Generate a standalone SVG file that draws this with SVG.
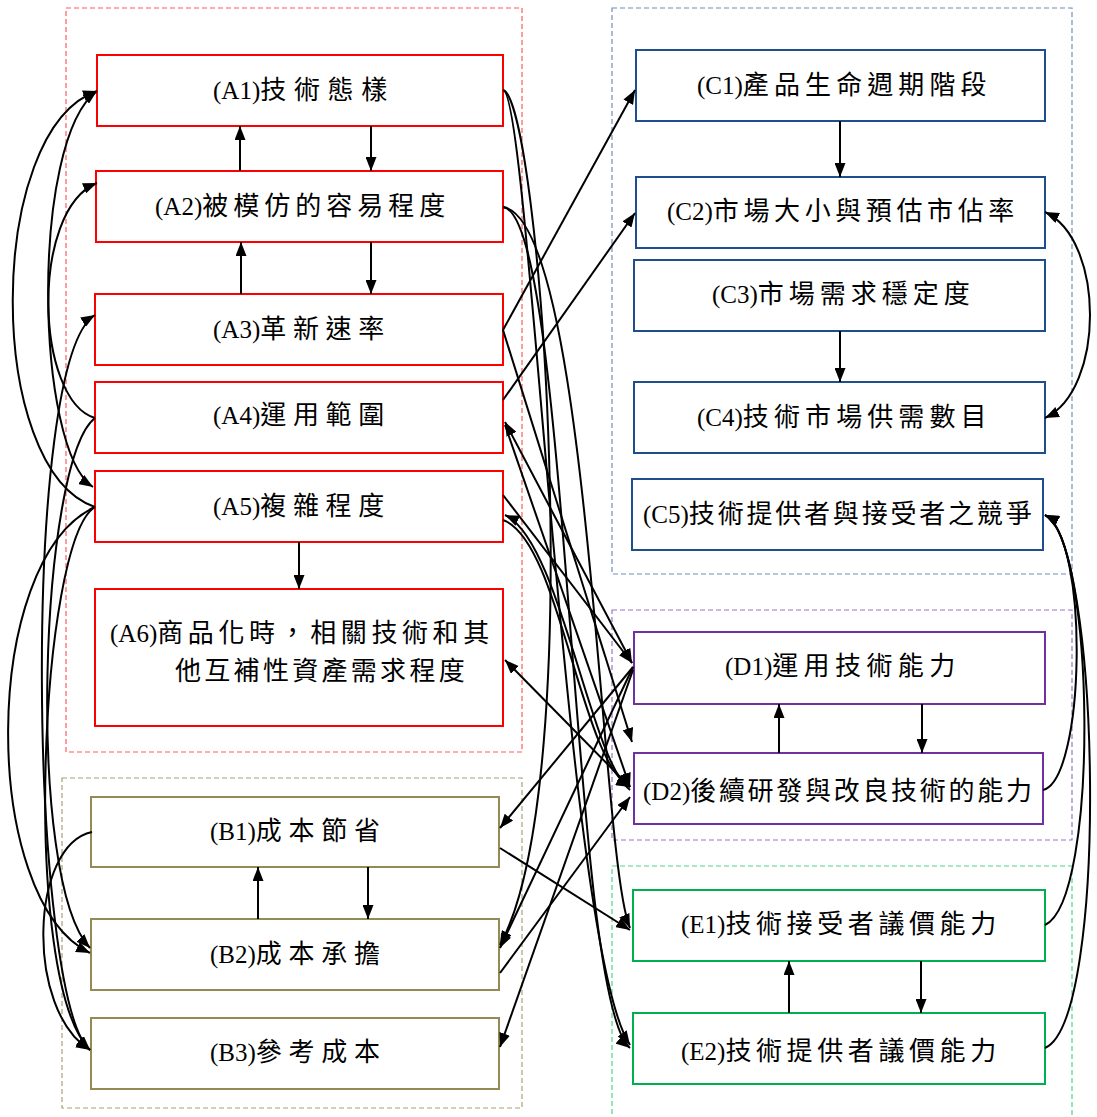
<svg xmlns="http://www.w3.org/2000/svg" width="1097" height="1117" viewBox="0 0 1097 1117">
<style>
.grp{fill:none;stroke-width:1.2;stroke-dasharray:5 3}
.box{fill:#fff;stroke-width:2}
.a{stroke:#ff0000}.b{stroke:#948a54}.c{stroke:#1f4e8c}.d{stroke:#7030a0}.e{stroke:#00b050}
.t{font-family:"Liberation Serif","Noto Sans CJK TC",serif;font-size:25px;fill:#000}
.t tspan,.z{font-size:26px}
.cn path,.cn line{fill:none;stroke:#000;stroke-width:2;marker-end:url(#ah)}
.cn .dbl{marker-start:url(#ah)}
</style>
<defs>
<marker id="ah" viewBox="0 0 14 11" refX="14" refY="5.5" markerWidth="14" markerHeight="11" markerUnits="userSpaceOnUse" orient="auto-start-reverse">
<path d="M0,0 L14,5.5 L0,11 z" fill="#000"/>
</marker>
</defs>
<rect width="1097" height="1117" fill="#fff"/>
<g id="groups">
<rect class="grp" x="66" y="8" width="456" height="744" stroke="#ff5a5a"/>
<rect class="grp" x="62" y="778" width="460" height="330" stroke="#a89f74"/>
<rect class="grp" x="612" y="8" width="460" height="566" stroke="#6d8fba"/>
<rect class="grp" x="612" y="610" width="460" height="230" stroke="#9a74c8"/>
<rect class="grp" x="612" y="866" width="460" height="260" stroke="#4fd48a"/>
</g>
<g id="A1"><rect class="box a" x="97" y="55" width="406" height="71"/><text class="t" x="213" y="99">(A1)<tspan style="letter-spacing:7.7px">技術態樣</tspan></text></g>
<g id="A2"><rect class="box a" x="96" y="171" width="407" height="71"/><text class="t" x="155" y="215">(A2)<tspan style="letter-spacing:5px">被模仿的容易程度</tspan></text></g>
<g id="A3"><rect class="box a" x="95" y="294" width="408" height="71"/><text class="t" x="213" y="338">(A3)<tspan style="letter-spacing:6.7px">革新速率</tspan></text></g>
<g id="A4"><rect class="box a" x="95" y="382" width="408" height="71"/><text class="t" x="213" y="424">(A4)<tspan style="letter-spacing:6.7px">運用範圍</tspan></text></g>
<g id="A5"><rect class="box a" x="95" y="471" width="408" height="71"/><text class="t" x="213" y="515">(A5)<tspan style="letter-spacing:6.7px">複雜程度</tspan></text></g>
<g id="A6"><rect class="box a" x="95" y="589" width="408" height="137"/><text class="t" x="110" y="642">(A6)<tspan style="letter-spacing:4.6px">商品化時，相關技術和其</tspan></text><text class="t z" x="175" y="680" style="letter-spacing:3.3px">他互補性資產需求程度</text></g>
<g id="B1"><rect class="box b" x="91" y="797" width="408" height="70"/><text class="t" x="210" y="840">(B1)<tspan style="letter-spacing:6.7px">成本節省</tspan></text></g>
<g id="B2"><rect class="box b" x="91" y="919" width="408" height="71"/><text class="t" x="210" y="963">(B2)<tspan style="letter-spacing:6.7px">成本承擔</tspan></text></g>
<g id="B3"><rect class="box b" x="91" y="1018" width="408" height="71"/><text class="t" x="210" y="1061">(B3)<tspan style="letter-spacing:6.7px">參考成本</tspan></text></g>
<g id="C1"><rect class="box c" x="636" y="50" width="409" height="71"/><text class="t" x="697" y="94">(C1)<tspan style="letter-spacing:5.1px">產品生命週期階段</tspan></text></g>
<g id="C2"><rect class="box c" x="636" y="177" width="409" height="71"/><text class="t" x="667" y="220">(C2)<tspan style="letter-spacing:4.6px">市場大小與預估市佔率</tspan></text></g>
<g id="C3"><rect class="box c" x="634" y="260" width="411" height="71"/><text class="t" x="712" y="303">(C3)<tspan style="letter-spacing:5px">市場需求穩定度</tspan></text></g>
<g id="C4"><rect class="box c" x="634" y="382" width="411" height="71"/><text class="t" x="697" y="426">(C4)<tspan style="letter-spacing:5.1px">技術市場供需數目</tspan></text></g>
<g id="C5"><rect class="box c" x="632" y="479" width="411" height="71"/><text class="t" x="643" y="523">(C5)<tspan style="letter-spacing:2.8px">技術提供者與接受者之競爭</tspan></text></g>
<g id="D1"><rect class="box d" x="634" y="632" width="411" height="72"/><text class="t" x="725" y="675">(D1)<tspan style="letter-spacing:5.4px">運用技術能力</tspan></text></g>
<g id="D2"><rect class="box d" x="634" y="753" width="409" height="71"/><text class="t" x="643" y="800">(D2)<tspan style="letter-spacing:2.7px">後續研發與改良技術的能力</tspan></text></g>
<g id="E1"><rect class="box e" x="633" y="890" width="412" height="71"/><text class="t" x="681" y="933">(E1)<tspan style="letter-spacing:4.6px">技術接受者議價能力</tspan></text></g>
<g id="E2"><rect class="box e" x="633" y="1013" width="412" height="71"/><text class="t" x="681" y="1060">(E2)<tspan style="letter-spacing:4.6px">技術提供者議價能力</tspan></text></g>
<g id="connectors" class="cn">
<line x1="371" y1="126" x2="371" y2="171"/>
<line x1="240" y1="171" x2="240" y2="126"/>
<line x1="371" y1="242" x2="371" y2="294"/>
<line x1="241" y1="294" x2="241" y2="242"/>
<line x1="299" y1="542" x2="299" y2="589"/>
<line x1="368" y1="867" x2="368" y2="919"/>
<line x1="258" y1="919" x2="258" y2="867"/>
<line x1="840" y1="121" x2="840" y2="177"/>
<line x1="840" y1="331" x2="840" y2="382"/>
<line x1="922" y1="704" x2="922" y2="753"/>
<line x1="779" y1="753" x2="779" y2="704"/>
<line x1="921" y1="961" x2="921" y2="1013"/>
<line x1="789" y1="1013" x2="789" y2="961"/>
<path d="M95,507 C -15,470 -15,130 97,91"/>
<path class="dbl" d="M93,487 C 35,450 30,140 97,91"/>
<path d="M95,418 C 35,400 30,210 97,183"/>
<path class="dbl" d="M90,1050 C 30,1000 20,360 95,315"/>
<path d="M95,507 C -20,560 -20,900 90,953"/>
<path d="M95,418 C 40,460 25,880 90,948"/>
<path d="M95,507 C 40,540 20,980 90,1050"/>
<path d="M92,832 C 30,845 25,1010 90,1050"/>
<path d="M503,90 C 540,100 590,780 500,945"/>
<path d="M503,90 C 530,92 565,950 630,1045"/>
<path d="M503,207 C 570,215 570,1000 630,1048"/>
<path d="M503,207 C 590,220 600,860 630,928"/>
<line x1="503" y1="330" x2="635" y2="90"/>
<line x1="503" y1="330" x2="632" y2="742"/>
<line x1="503" y1="400" x2="635" y2="213"/>
<line class="dbl" x1="505" y1="422" x2="632" y2="663"/>
<line x1="505" y1="425" x2="630" y2="787"/>
<path d="M630,790 C 590,760 560,540 505,515"/>
<path d="M503,520 C 560,540 580,760 630,787"/>
<line x1="503" y1="495" x2="632" y2="663"/>
<line x1="633" y1="667" x2="500" y2="828"/>
<line x1="633" y1="667" x2="500" y2="948"/>
<line x1="633" y1="670" x2="500" y2="1047"/>
<line x1="500" y1="848" x2="630" y2="930"/>
<line x1="500" y1="973" x2="630" y2="797"/>
<line class="dbl" x1="505" y1="660" x2="630" y2="787"/>
<path class="dbl" d="M1045,212 C 1105,240 1105,390 1045,418"/>
<path d="M1043,790 C 1085,780 1090,540 1045,515"/>
<path d="M1045,925 C 1100,900 1095,540 1045,515"/>
<path d="M1045,1048 C 1110,1020 1100,540 1045,515"/>
</g>
</svg>
